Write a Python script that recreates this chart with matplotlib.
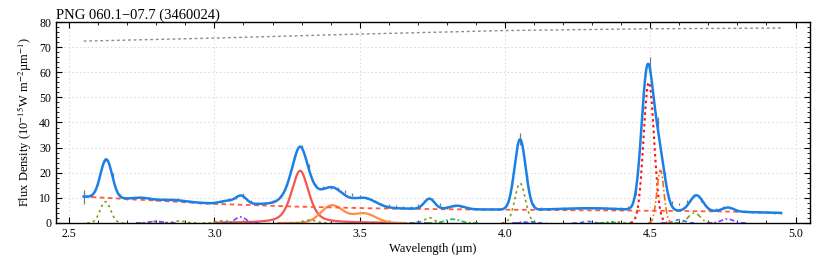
import numpy as np
import matplotlib
matplotlib.use("Agg")
import matplotlib.pyplot as plt
from matplotlib.ticker import MultipleLocator

wave_obs = np.round(np.arange(2.55, 4.951, 0.025), 3)
flux_obs = [10.4, 11.0, 16.0, 25.2, 19.0, 11.0, 9.8, 9.6, 10.0, 9.7,
            9.4, 9.5, 9.6, 9.4, 8.8, 8.3, 8.0, 7.9, 8.0, 8.6,
            9.3, 10.2, 11.0, 8.8, 7.8, 7.8, 8.5, 10.5, 15.5, 25.8,
            30.2, 22.5, 15.0, 14.0, 14.0, 13.8, 12.5, 11.3, 10.8, 10.0,
            8.8, 7.6, 6.9, 6.5, 6.3, 6.4, 7.0, 8.8, 9.3, 7.3,
            6.2, 6.8, 6.5, 5.8, 5.6, 5.5, 5.5, 5.6, 6.5, 15.5,
            33.5, 18.5, 7.0, 5.8, 5.6, 5.6, 5.7, 5.8, 5.9, 6.0,
            6.0, 5.8, 5.9, 6.0, 6.0, 6.0, 12.0, 46.0, 63.0, 40.0,
            19.0, 8.0, 7.5, 8.5, 11.0, 9.0, 5.5, 5.4, 6.2, 6.0,
            4.9, 4.6, 4.4, 4.3, 4.2, 4.1, 4.0]
flux_err = [2.8, 0.6, 0.8, 0.8, 0.8, 0.6, 0.5, 0.5, 0.5, 0.5,
            0.5, 0.5, 0.5, 0.5, 0.5, 0.5, 0.5, 0.5, 0.5, 0.5,
            0.5, 0.6, 0.9, 0.5, 0.5, 0.5, 0.5, 0.6, 0.8, 0.8,
            1.0, 0.8, 0.6, 0.6, 0.6, 0.6, 0.5, 0.5, 0.5, 0.5,
            0.5, 0.5, 0.5, 0.5, 0.5, 0.5, 0.5, 0.5, 0.6, 0.5,
            0.5, 0.5, 0.5, 0.5, 0.5, 0.5, 0.5, 0.5, 0.5, 0.8,
            2.5, 0.8, 0.5, 0.5, 0.5, 0.5, 0.5, 0.5, 0.5, 0.5,
            0.5, 0.5, 0.5, 0.5, 0.5, 0.6, 1.0, 2.0, 3.0, 2.0,
            1.2, 0.6, 0.5, 0.5, 0.6, 0.5, 0.4, 0.4, 0.4, 0.4,
            0.4, 0.4, 0.4, 0.4, 0.4, 0.4, 0.4]

# upper grey dotted curve
top_wave = [2.55, 3.0, 3.5, 4.0, 4.5, 4.95]
top_flux = [72.4, 73.6, 75.2, 76.6, 77.3, 77.6]

# continuum
cont_wave = [2.55, 2.75, 3.0, 3.25, 3.5, 3.75, 4.0, 4.25, 4.5, 4.75, 4.95]
cont_flux = [10.5, 9.2, 7.6, 6.6, 5.9, 5.5, 5.3, 5.1, 4.9, 4.6, 4.0]

# 3.3 um feature (pseudo-Voigt) and 3.4 um complex
pah33 = (3.295, 20.8, 0.07)
pah34_center = [3.405, 3.515]
pah34_height = [7.0, 3.8]
pah34_sigma = [0.038, 0.04]

# extra emission in the total model (center, height above continuum, sigma)
model_center = [2.628, 2.75, 2.86, 3.045, 3.092, 3.295, 3.74, 3.835, 4.052, 4.3,
                4.49, 4.53, 4.659, 4.768]
model_height = [15.3, 0.8, 0.6, 1.2, 3.2, 3.0, 4.1, 1.4, 28.0, 0.8,
                55.0, 22.0, 6.3, 1.6]
model_sigma = [0.02, 0.03, 0.04, 0.025, 0.018, 0.035, 0.018, 0.025, 0.019, 0.1,
               0.02, 0.02, 0.022, 0.02]

# individual line components: (center, height, sigma)
olive_dot = [(2.625, 8.5, 0.018), (2.80, 0.6, 0.02), (2.88, 0.8, 0.02), (3.03, 0.9, 0.02),
             (3.33, 1.2, 0.02), (3.74, 2.1, 0.016), (4.052, 15.8, 0.018), (4.38, 0.5, 0.015)]
olive_dashdot = [(4.652, 4.0, 0.02)]
purple_dashdot = [(2.80, 0.7, 0.02), (3.09, 2.4, 0.018), (4.06, 0.4, 0.01), (4.765, 1.6, 0.02)]
blue_dash = [(3.705, 0.4, 0.01), (4.09, 0.5, 0.015), (4.285, 0.6, 0.015), (4.60, 1.3, 0.018)]
green_dashdot = [(3.82, 1.5, 0.025), (4.36, 0.4, 0.01)]
red_dot = [(4.495, 56.0, 0.018)]
orange_dashdot = [(4.535, 21.0, 0.012)]


def gauss(x, c, h, s):
    return h * np.exp(-0.5 * ((x - c) / s) ** 2)


def pvoigt(x, c, h, w, eta=0.5):
    g = np.exp(-4 * np.log(2) * ((x - c) / w) ** 2)
    lor = 1.0 / (1.0 + 4 * ((x - c) / w) ** 2)
    return h * (eta * lor + (1 - eta) * g)


plt.rcParams["font.family"] = ["Liberation Serif", "DejaVu Serif"]
plt.rcParams["mathtext.fontset"] = "stix"

fig = plt.figure(figsize=(8.3, 2.56), dpi=100)
ax = fig.add_axes([0.0675, 0.129, 0.9085, 0.785])

x = np.linspace(2.55, 4.95, 1200)
cont = np.interp(x, cont_wave, cont_flux)
model = cont + pvoigt(x, *pah33)
for c, h, s in zip(pah34_center, pah34_height, pah34_sigma):
    model += gauss(x, c, h, s)
for c, h, s in zip(model_center, model_height, model_sigma):
    model += gauss(x, c, h, s)

ax.plot(top_wave, top_flux, ls=(0, (2, 2)), color="#8c8c8c", lw=1.0)

ax.errorbar(wave_obs, flux_obs, yerr=flux_err, fmt="none", ecolor="#7a7a7a", elinewidth=0.9)

# PAH components
xp = np.linspace(3.0, 3.6, 400)
ax.plot(xp, pvoigt(xp, *pah33), color="#f25555", lw=1.6)
xo = np.linspace(3.22, 3.66, 300)
orange = sum(gauss(xo, c, h, s) for c, h, s in zip(pah34_center, pah34_height, pah34_sigma))
ax.plot(xo, orange, color="#ff8c4a", lw=1.6)


def draw(comps, color, ls, lw=1.2):
    for c, h, s in comps:
        xx = np.linspace(c - 3.5 * s, c + 3.5 * s, 80)
        ax.plot(xx, gauss(xx, c, h, s), color=color, ls=ls, lw=lw)


draw(olive_dot, "#8a9a12", (0, (1.5, 2)))
draw(olive_dashdot, "#8a9a12", (0, (3, 2, 1, 2)))
draw(purple_dashdot, "#8040ff", (0, (3, 1.5, 1, 1.5)))
draw(blue_dash, "#3575ff", (0, (2.5, 2)))
draw(green_dashdot, "#22bb44", (0, (3, 1.5, 1, 1.5)))
draw(red_dot, "#ff1010", (0, (1.2, 1.6)), lw=1.5)
draw(orange_dashdot, "#ff6a10", (0, (4, 1.5, 1, 1.5)))

ax.plot(x, cont, color="#ff5a3c", ls=(0, (2.5, 2)), lw=1.3)
ax.plot(x, model, color="#1a80e8", lw=1.8)

ax.set_xlim(2.455, 5.05)
ax.set_ylim(0, 80)
ax.xaxis.set_major_locator(MultipleLocator(0.5))
ax.xaxis.set_minor_locator(MultipleLocator(0.1))
ax.yaxis.set_major_locator(MultipleLocator(10))
ax.yaxis.set_minor_locator(MultipleLocator(2))
ax.xaxis.set_major_formatter(matplotlib.ticker.FormatStrFormatter("%.1f"))
ax.tick_params(which="both", direction="in", top=True, right=True, labelsize=8.5)
ax.tick_params(which="major", length=4, width=0.8)
ax.tick_params(which="minor", length=2, width=0.6)
ax.grid(True, which="major", ls=(0, (1.5, 2.5)), color="#d8d8d8", lw=0.7)
ax.set_axisbelow(True)
for sp in ax.spines.values():
    sp.set_linewidth(1.0)

ax.set_xlabel("Wavelength (µm)", fontsize=9, labelpad=2)
ax.set_ylabel("Flux Density (10$^{-15}$W m$^{-2}$µm$^{-1}$)", fontsize=9, labelpad=4)
ax.set_title("PNG 060.1\u221207.7 (3460024)", loc="left", fontsize=10.5, pad=2)

fig.savefig("out.png", dpi=100)
